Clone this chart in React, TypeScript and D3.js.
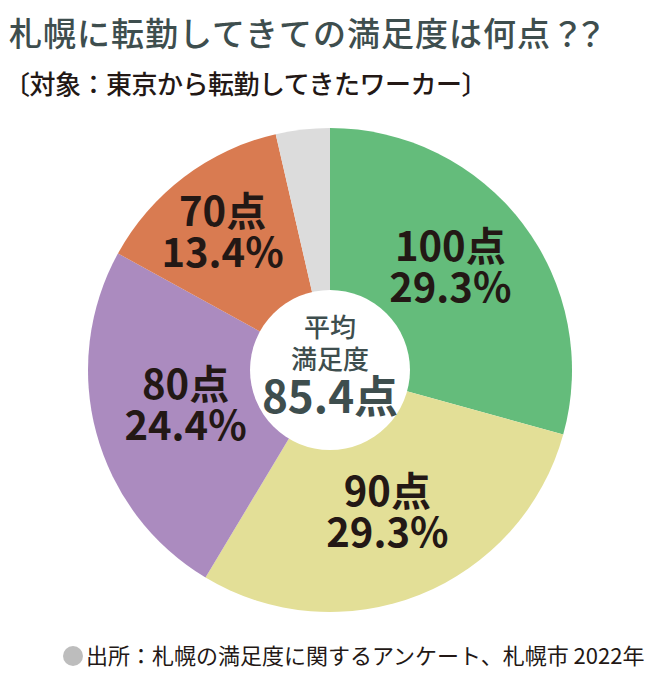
import * as d3 from "d3";

const categories = ["100点", "90点", "80点", "70点", "その他"];
const shares = [29.3, 29.3, 24.4, 13.4, 3.6];
const colors = ["#64bc7b", "#e3df97", "#ab8bbf", "#d97b51", "#dcdcdc"];
const showLabel = [true, true, true, true, false];
const centerLines = ["平均", "満足度"];
const centerValue = "85.4点";

// layout nudges for the slice labels (px), by slice
const labelNudge = [
  [-7, -4],
  [-2, -5],
  [10, -5],
  [-11, -8],
  [0, 0],
];

const W = 660;
const H = 680;
const cx = 330;
const cy = 370;
const outerR = 242;
const innerR = 80;
const labelR = 160;
const jp = "'Noto Sans CJK JP', 'Noto Sans', sans-serif";

export default function App() {
  const pie = d3
    .pie<number>()
    .sort(null)
    .value((d) => d);
  const arcs = pie(shares);
  const arc = d3.arc<d3.PieArcDatum<number>>().innerRadius(0).outerRadius(outerR);
  const labelArc = d3
    .arc<d3.PieArcDatum<number>>()
    .innerRadius(labelR)
    .outerRadius(labelR);

  return (
    <svg
      width={W}
      height={H}
      style={{ position: "absolute", left: 0, top: 0, background: "#fff" }}
      fontFamily={jp}
    >
      {/* title */}
      <text x={9} y={46} fontSize={33} fill="#3e4e4e" fontWeight={500} letterSpacing={1}>
        札幌に転勤してきての満足度は何点
        <tspan letterSpacing={-10}>？？</tspan>
      </text>
      <text x={4} y={94} fontSize={26} fill="#231815" fontWeight={500} letterSpacing={-0.5}>
        〔対象：東京から転勤してきたワーカー〕
      </text>

      <g transform={`translate(${cx},${cy})`}>
        {arcs.map((a, i) => (
          <path key={i} d={arc(a) ?? ""} fill={colors[i]} />
        ))}
        <circle r={innerR} fill="#fff" />
        {arcs.map((a, i) => {
          if (!showLabel[i]) return null;
          const [px, py] = labelArc.centroid(a);
          const lx = px + labelNudge[i][0];
          const ly = py + labelNudge[i][1];
          return (
            <g key={"l" + i} fontSize={40} fontWeight={700} fill="#231815" textAnchor="middle">
              <text x={lx} y={ly - 8}>
                {categories[i]}
              </text>
              <text x={lx} y={ly + 33}>
                {shares[i].toFixed(1)}%
              </text>
            </g>
          );
        })}
        <g fill="#3e4e4e" textAnchor="middle">
          {centerLines.map((t, i) => (
            <text key={t} x={0} y={-33 + i * 32} fontSize={26} fontWeight={500}>
              {t}
            </text>
          ))}
          <text x={0} y={43} fontSize={44} fontWeight={700}>
            {centerValue}
          </text>
        </g>
      </g>

      {/* source */}
      <circle cx={73} cy={656} r={10} fill="#bdbdbd" />
      <text x={86} y={664} fontSize={22} fill="#231815">
        出所：札幌の満足度に関するアンケート、札幌市 2022年
      </text>
    </svg>
  );
}
